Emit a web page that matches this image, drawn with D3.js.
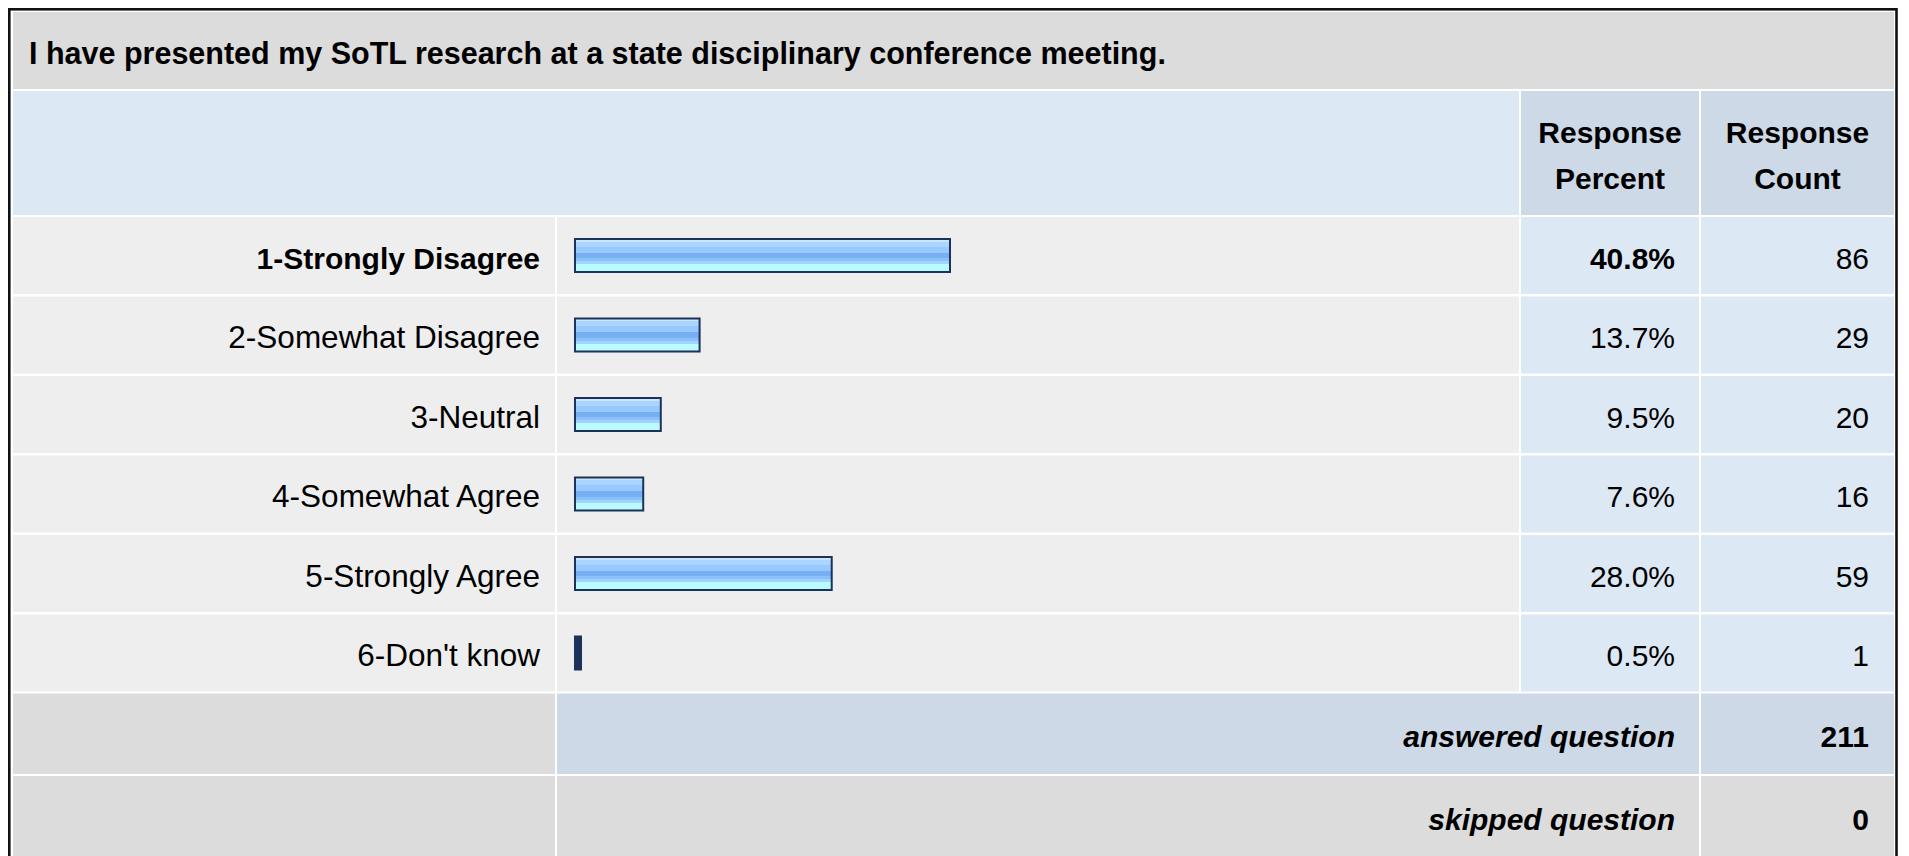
<!DOCTYPE html>
<html>
<head>
<meta charset="utf-8">
<script src="https://cdn.jsdelivr.net/npm/d3@7"></script>
<style>
  html, body { margin: 0; padding: 0; background: #ffffff; }
  svg { display: block; }
  text { font-family: "Liberation Sans", Arial, Helvetica, sans-serif; fill: #000; }
</style>
</head>
<body>
<svg id="chart" width="1909" height="856"></svg>
<script>
// Survey question and its answer breakdown
const questionTitle = "I have presented my SoTL research at a state disciplinary conference meeting.";
const categories = ["1-Strongly Disagree", "2-Somewhat Disagree", "3-Neutral", "4-Somewhat Agree", "5-Strongly Agree", "6-Don't know"];
const responsePercent = [40.8, 13.7, 9.5, 7.6, 28.0, 0.5];
const responseCount = [86, 29, 20, 16, 59, 1];
const headerLabels = [["Response", "Percent"], ["Response", "Count"]];
const summaryLabels = ["answered question", "skipped question"];
const summaryValues = [211, 0];

const W = 1909, H = 856;
const svg = d3.select("#chart");

// Table geometry
const colL = [13, 557, 1521, 1701];
const colR = [555, 1519, 1699, 1894];
const titleRow = [12, 89];
const headerRow = [91, 215];
const summaryRows = [[693.5, 774], [776, 860]];

const C = {
  grey: "#dcdcdc",
  cell: "#eeeeee",
  blue: "#dde8f5",
  blueDark: "#cdd9e6",
  barStroke: "#1c3259"
};

// Bar gradient: banded blue glass effect
const defs = svg.append("defs");
const grad = defs.append("linearGradient").attr("id", "barFill")
  .attr("x1", 0).attr("y1", 0).attr("x2", 0).attr("y2", 1);
const bands = [
  [0, 0.0625, "#c9e4ff"],
  [0.0625, 0.219, "#a9d5ff"],
  [0.219, 0.406, "#95c9ff"],
  [0.406, 0.594, "#77aff3"],
  [0.594, 0.688, "#89c1fa"],
  [0.688, 0.781, "#a2d3ff"],
  [0.781, 1, "#b9fbff"]
];
bands.forEach(([a, b, c]) => {
  grad.append("stop").attr("offset", a).attr("stop-color", c);
  grad.append("stop").attr("offset", b).attr("stop-color", c);
});

svg.append("rect").attr("width", W).attr("height", H).attr("fill", "#fff");

const fs = 30;
const baseOff = 13;

// Title row
svg.append("rect").attr("x", colL[0]).attr("y", titleRow[0])
  .attr("width", colR[3] - colL[0]).attr("height", titleRow[1] - titleRow[0]).attr("fill", C.grey);
svg.append("text").attr("x", 29).attr("y", (titleRow[0] + titleRow[1]) / 2 + baseOff)
  .attr("font-size", 30.5).attr("font-weight", "bold").text(questionTitle);

// Header row
svg.append("rect").attr("x", colL[0]).attr("y", headerRow[0])
  .attr("width", colR[1] - colL[0]).attr("height", headerRow[1] - headerRow[0]).attr("fill", C.blue);
headerLabels.forEach((lines, i) => {
  const c = i + 2;
  svg.append("rect").attr("x", colL[c]).attr("y", headerRow[0])
    .attr("width", colR[c] - colL[c]).attr("height", headerRow[1] - headerRow[0]).attr("fill", C.blueDark);
  const cx = (colL[c] + colR[c]) / 2;
  lines.forEach((ln, j) => {
    svg.append("text").attr("x", cx).attr("y", 143 + j * 46)
      .attr("text-anchor", "middle").attr("font-size", fs).attr("font-weight", "bold").text(ln);
  });
});

// Data rows
const y = d3.scaleBand().domain(categories).range([217, 691.5]).paddingInner(2.5 / 79.5).paddingOuter(0);
const x = d3.scaleLinear().domain([0, 100]).range([574, 574 + 924]);
const maxIdx = d3.maxIndex(responsePercent);

const rows = svg.append("g").selectAll("g").data(categories).join("g")
  .attr("transform", d => `translate(0,${y(d)})`);
const bh = y.bandwidth();

[C.cell, C.cell, C.blue, C.blue].forEach((fill, c) => {
  rows.append("rect").attr("x", colL[c]).attr("y", 0)
    .attr("width", colR[c] - colL[c]).attr("height", bh).attr("fill", fill);
});

rows.append("text").attr("x", 540).attr("y", bh / 2 + baseOff)
  .attr("text-anchor", "end")
  .attr("font-size", (d, i) => i === maxIdx ? fs : 31.5)
  .attr("font-weight", (d, i) => i === maxIdx ? "bold" : "normal").text(d => d);

// Bars: dark frame spanning x(0)..x(value), banded fill inset by the frame width.
// Bars at the minimum width show only the frame.
const barH = 35;
const minBar = 8;
const frame = 2;
const rawW = i => x(responsePercent[i]) - x(0);
rows.append("rect")
  .attr("x", x(0)).attr("y", bh / 2 - barH / 2)
  .attr("width", (d, i) => Math.max(minBar, rawW(i))).attr("height", barH)
  .attr("fill", C.barStroke);
rows.append("rect")
  .attr("x", x(0) + frame).attr("y", bh / 2 - barH / 2 + frame)
  .attr("width", (d, i) => rawW(i) > minBar ? rawW(i) - 2 * frame : 0)
  .attr("height", barH - 2 * frame)
  .attr("fill", "url(#barFill)");

rows.append("text").attr("x", 1675).attr("y", bh / 2 + baseOff)
  .attr("text-anchor", "end").attr("font-size", fs)
  .attr("font-weight", (d, i) => i === maxIdx ? "bold" : "normal")
  .text((d, i) => d3.format(".1f")(responsePercent[i]) + "%");

rows.append("text").attr("x", 1869).attr("y", bh / 2 + baseOff)
  .attr("text-anchor", "end").attr("font-size", fs)
  .text((d, i) => responseCount[i]);

// Summary rows
summaryRows.forEach(([t, b], i) => {
  const mid = (t + b) / 2;
  const fillMid = i === 0 ? C.blueDark : C.grey;
  svg.append("rect").attr("x", colL[0]).attr("y", t).attr("width", colR[0] - colL[0]).attr("height", b - t).attr("fill", C.grey);
  svg.append("rect").attr("x", colL[1]).attr("y", t).attr("width", colR[2] - colL[1]).attr("height", b - t).attr("fill", fillMid);
  svg.append("rect").attr("x", colL[3]).attr("y", t).attr("width", colR[3] - colL[3]).attr("height", b - t).attr("fill", fillMid);
  svg.append("text").attr("x", 1675).attr("y", (i === 0 ? mid : 816.5) + baseOff)
    .attr("text-anchor", "end").attr("font-size", fs).attr("font-weight", "bold").attr("font-style", "italic")
    .text(summaryLabels[i]);
  svg.append("text").attr("x", 1869).attr("y", (i === 0 ? mid : 816.5) + baseOff)
    .attr("text-anchor", "end").attr("font-size", fs).attr("font-weight", "bold")
    .text(summaryValues[i]);
});

// Outer frame
svg.append("rect").attr("x", 9.3).attr("y", 9.3).attr("width", 1887.2).attr("height", 900)
  .attr("fill", "none").attr("stroke", "#111").attr("stroke-width", 2.6);
</script>
</body>
</html>
